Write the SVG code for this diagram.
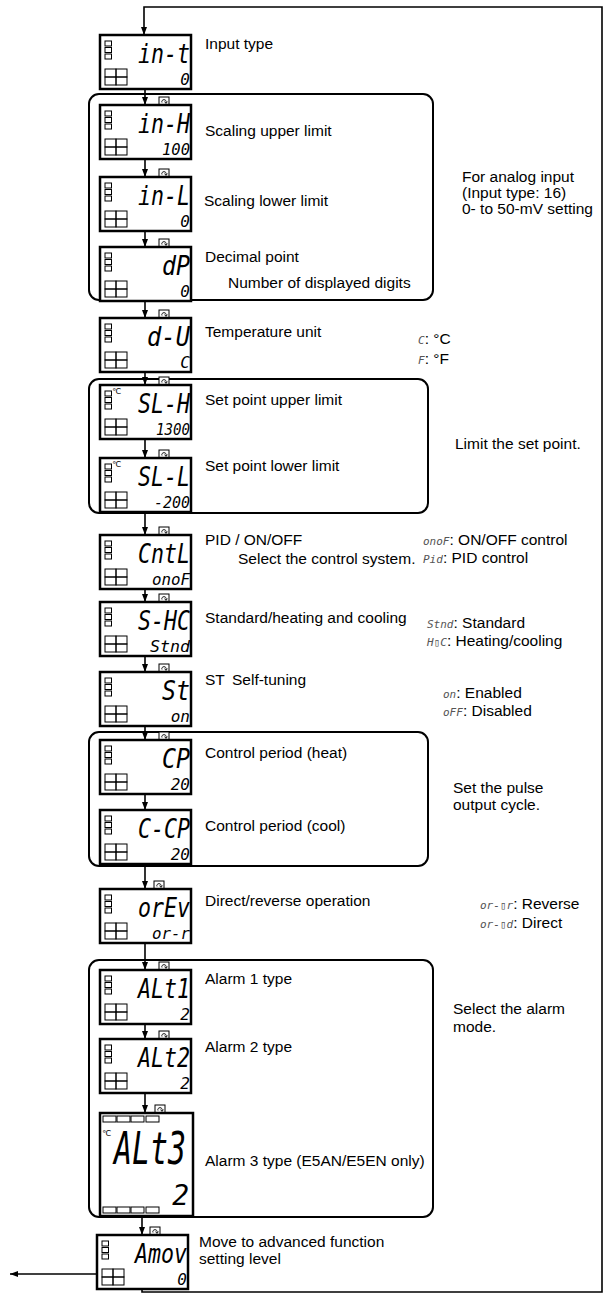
<svg xmlns="http://www.w3.org/2000/svg" xmlns:xlink="http://www.w3.org/1999/xlink" width="612" height="1297" viewBox="0 0 612 1297">
<style>
.t{font-family:"Liberation Sans",Arial,sans-serif;font-size:15.5px;fill:#000}
.big{font-family:"DejaVu Sans Mono",monospace;font-style:italic;font-size:26px;text-anchor:end;fill:#000}
.sm{font-family:"DejaVu Sans Mono",monospace;font-style:italic;font-size:16px;text-anchor:end;fill:#000}
.seg{font-family:"DejaVu Sans Mono",monospace;font-style:italic;font-size:11px;fill:#555}
.deg{font-family:"DejaVu Sans",sans-serif;font-size:8px;fill:#000}
.grp{fill:none;stroke:#000;stroke-width:2}
.con{fill:none;stroke:#000;stroke-width:1.6}
.ind{fill:none;stroke:#000;stroke-width:1}
</style>
<defs>
<marker id="ah" viewBox="0 0 10 10" refX="10" refY="5" markerWidth="8" markerHeight="6" markerUnits="userSpaceOnUse" orient="auto" preserveAspectRatio="none"><path d="M0,0 L10,5 L0,10 z" fill="#000"/></marker>
<g id="dispc">
<rect x="0" y="0" width="91" height="54" fill="#fff" stroke="#000" stroke-width="2.5"/>
<rect class="ind" x="5" y="6" width="6.5" height="5"/>
<rect class="ind" x="5" y="12.5" width="6.5" height="5"/>
<rect class="ind" x="5" y="19" width="6.5" height="5"/>
<rect class="ind" x="5" y="34" width="11" height="8"/>
<rect class="ind" x="16" y="34" width="11" height="8"/>
<rect class="ind" x="5" y="42" width="11" height="8"/>
<rect class="ind" x="16" y="42" width="11" height="8"/>
</g>
<g id="loop">
<rect x="0" y="0" width="10" height="8" fill="#fff" stroke="#000" stroke-width="1"/>
<path d="M3,5.5 A2.2,2 0 1 1 7,5.5" fill="none" stroke="#000" stroke-width="0.9"/>
<path d="M5.6,4.6 L7,6.4 L8.4,4.6" fill="none" stroke="#000" stroke-width="0.9"/>
</g>
</defs>

<!-- group frames -->
<g id="groups">
<rect class="grp" x="89" y="94" width="344" height="206" rx="10"/>
<rect class="grp" x="89" y="379" width="339" height="134" rx="10"/>
<rect class="grp" x="89" y="732" width="339" height="134" rx="10"/>
<rect class="grp" x="89" y="960" width="344" height="257" rx="10"/>
</g>

<!-- connectors -->
<g id="connectors">
<path class="con" d="M142,1289 V1292 H602 V7 H144 V35" marker-end="url(#ah)"/>
<path class="con" d="M145,89 V105" marker-end="url(#ah)"/>
<path class="con" d="M145,159 V177" marker-end="url(#ah)"/>
<path class="con" d="M145,231 V247" marker-end="url(#ah)"/>
<path class="con" d="M145,301 V318" marker-end="url(#ah)"/>
<path class="con" d="M145,372 V385" marker-end="url(#ah)"/>
<path class="con" d="M145,439 V458" marker-end="url(#ah)"/>
<path class="con" d="M145,512 V535" marker-end="url(#ah)"/>
<path class="con" d="M145,589 V602" marker-end="url(#ah)"/>
<path class="con" d="M145,656 V672" marker-end="url(#ah)"/>
<path class="con" d="M145,726 V740" marker-end="url(#ah)"/>
<path class="con" d="M145,794 V810" marker-end="url(#ah)"/>
<path class="con" d="M145,864 V889" marker-end="url(#ah)"/>
<path class="con" d="M145,943 V970" marker-end="url(#ah)"/>
<path class="con" d="M145,1024 V1039" marker-end="url(#ah)"/>
<path class="con" d="M145,1093 V1113" marker-end="url(#ah)"/>
<path class="con" d="M142,1216 V1235" marker-end="url(#ah)"/>
<path class="con" d="M97,1274 H10" marker-end="url(#ah)"/>
</g>

<!-- nodes -->
<g id="n-int">
<use href="#dispc" x="100" y="35"/>
<text class="big" x="190" y="63" textLength="52" lengthAdjust="spacingAndGlyphs">in-t</text>
<text class="sm" x="190" y="85">0</text>
<text class="t" x="205" y="49">Input type</text>
</g>

<g id="n-inh">
<use href="#loop" x="159" y="97"/>
<use href="#dispc" x="100" y="105"/>
<text class="big" x="190" y="133" textLength="52" lengthAdjust="spacingAndGlyphs">in-H</text>
<text class="sm" x="190" y="155" textLength="28" lengthAdjust="spacingAndGlyphs">100</text>
<text class="t" x="205" y="136">Scaling upper limit</text>
</g>

<g id="n-inl">
<use href="#loop" x="159" y="169"/>
<use href="#dispc" x="100" y="177"/>
<text class="big" x="190" y="205" textLength="52" lengthAdjust="spacingAndGlyphs">in-L</text>
<text class="sm" x="190" y="227">0</text>
<text class="t" x="204" y="206">Scaling lower limit</text>
</g>

<g id="n-dp">
<use href="#loop" x="159" y="239"/>
<use href="#dispc" x="100" y="247"/>
<text class="big" x="190" y="275" textLength="28" lengthAdjust="spacingAndGlyphs">dP</text>
<text class="sm" x="190" y="297">0</text>
<text class="t" x="205" y="262">Decimal point</text>
<text class="t" x="228" y="288">Number of displayed digits</text>
</g>

<g id="note-analog">
<text class="t" x="462" y="182">For analog input</text>
<text class="t" x="462" y="198">(Input type: 16)</text>
<text class="t" x="462" y="214">0- to 50-mV setting</text>
</g>

<g id="n-du">
<use href="#loop" x="159" y="310"/>
<use href="#dispc" x="100" y="318"/>
<text class="big" x="190" y="346" textLength="43" lengthAdjust="spacingAndGlyphs">d-U</text>
<text class="sm" x="190" y="368">C</text>
<text class="t" x="205" y="337">Temperature unit</text>
<text class="t" x="418" y="344"><tspan class="seg">C</tspan>: °C</text>
<text class="t" x="418" y="364"><tspan class="seg">F</tspan>: °F</text>
</g>

<g id="n-slh">
<use href="#loop" x="159" y="377"/>
<use href="#dispc" x="100" y="385"/>
<text class="deg" x="112" y="394">℃</text>
<text class="big" x="190" y="413" textLength="52" lengthAdjust="spacingAndGlyphs">SL-H</text>
<text class="sm" x="190" y="435" textLength="34" lengthAdjust="spacingAndGlyphs">1300</text>
<text class="t" x="205" y="405">Set point upper limit</text>
</g>

<g id="n-sll">
<use href="#loop" x="159" y="450"/>
<use href="#dispc" x="100" y="458"/>
<text class="deg" x="112" y="467">℃</text>
<text class="big" x="190" y="486" textLength="52" lengthAdjust="spacingAndGlyphs">SL-L</text>
<text class="sm" x="190" y="508" textLength="36" lengthAdjust="spacingAndGlyphs">-200</text>
<text class="t" x="205" y="471">Set point lower limit</text>
</g>

<text class="t" x="455" y="449">Limit the set point.</text>

<g id="n-cntl">
<use href="#loop" x="159" y="527"/>
<use href="#dispc" x="100" y="535"/>
<text class="big" x="190" y="563" textLength="52" lengthAdjust="spacingAndGlyphs">CntL</text>
<text class="sm" x="190" y="585" textLength="38" lengthAdjust="spacingAndGlyphs">onoF</text>
<text class="t" x="205" y="545">PID / ON/OFF</text>
<text class="t" x="238" y="564">Select the control system.</text>
<text class="t" x="423" y="545"><tspan class="seg">onoF</tspan>: ON/OFF control</text>
<text class="t" x="423" y="563"><tspan class="seg">Pid</tspan>: PID control</text>
</g>

<g id="n-shc">
<use href="#loop" x="159" y="594"/>
<use href="#dispc" x="100" y="602"/>
<text class="big" x="190" y="630" textLength="52" lengthAdjust="spacingAndGlyphs">S-HC</text>
<text class="sm" x="190" y="652" textLength="40" lengthAdjust="spacingAndGlyphs">Stnd</text>
<text class="t" x="205" y="623">Standard/heating and cooling</text>
<text class="t" x="427" y="628"><tspan class="seg">Stnd</tspan>: Standard</text>
<text class="t" x="427" y="646"><tspan class="seg">H▯C</tspan>: Heating/cooling</text>
</g>

<g id="n-st">
<use href="#loop" x="159" y="664"/>
<use href="#dispc" x="100" y="672"/>
<text class="big" x="190" y="700" textLength="28" lengthAdjust="spacingAndGlyphs">St</text>
<text class="sm" x="190" y="722">on</text>
<text class="t" x="205" y="685">ST</text>
<text class="t" x="232" y="685">Self-tuning</text>
<text class="t" x="443" y="698"><tspan class="seg">on</tspan>: Enabled</text>
<text class="t" x="443" y="716"><tspan class="seg">oFF</tspan>: Disabled</text>
</g>

<g id="n-cp">
<use href="#loop" x="159" y="732"/>
<use href="#dispc" x="100" y="740"/>
<text class="big" x="190" y="768" textLength="28" lengthAdjust="spacingAndGlyphs">CP</text>
<text class="sm" x="190" y="790">20</text>
<text class="t" x="205" y="758">Control period (heat)</text>
</g>

<g id="n-ccp">
<use href="#dispc" x="100" y="810"/>
<text class="big" x="190" y="838" textLength="52" lengthAdjust="spacingAndGlyphs">C-CP</text>
<text class="sm" x="190" y="860">20</text>
<text class="t" x="205" y="831">Control period (cool)</text>
</g>

<g id="note-pulse">
<text class="t" x="453" y="793">Set the pulse</text>
<text class="t" x="453" y="810">output cycle.</text>
</g>

<g id="n-orev">
<use href="#loop" x="154" y="881"/>
<use href="#dispc" x="100" y="889"/>
<text class="big" x="190" y="917" textLength="52" lengthAdjust="spacingAndGlyphs">orEv</text>
<text class="sm" x="190" y="939" textLength="38" lengthAdjust="spacingAndGlyphs">or-r</text>
<text class="t" x="205" y="906">Direct/reverse operation</text>
<text class="t" x="480" y="909"><tspan class="seg">or-▯r</tspan>: Reverse</text>
<text class="t" x="480" y="928"><tspan class="seg">or-▯d</tspan>: Direct</text>
</g>

<g id="n-alt1">
<use href="#loop" x="159" y="962"/>
<use href="#dispc" x="100" y="970"/>
<text class="big" x="190" y="998" textLength="52" lengthAdjust="spacingAndGlyphs">ALt1</text>
<text class="sm" x="190" y="1020">2</text>
<text class="t" x="205" y="984">Alarm 1 type</text>
</g>

<g id="n-alt2">
<use href="#loop" x="159" y="1031"/>
<use href="#dispc" x="100" y="1039"/>
<text class="big" x="190" y="1067" textLength="52" lengthAdjust="spacingAndGlyphs">ALt2</text>
<text class="sm" x="190" y="1089">2</text>
<text class="t" x="205" y="1052">Alarm 2 type</text>
</g>

<g id="note-alarm">
<text class="t" x="453" y="1014">Select the alarm</text>
<text class="t" x="453" y="1032">mode.</text>
</g>

<g id="n-alt3">
<use href="#loop" x="155" y="1105"/>
<rect x="100" y="1113" width="93" height="103" fill="#fff" stroke="#000" stroke-width="2.5"/>
<rect class="ind" x="103" y="1116" width="13" height="6"/>
<rect class="ind" x="117" y="1116" width="13" height="6"/>
<rect class="ind" x="131" y="1116" width="13" height="6"/>
<rect class="ind" x="146" y="1116" width="13" height="6"/>
<rect class="ind" x="103" y="1207" width="13" height="6"/>
<rect class="ind" x="117" y="1207" width="13" height="6"/>
<rect class="ind" x="131" y="1207" width="13" height="6"/>
<rect class="ind" x="146" y="1207" width="13" height="6"/>
<text class="deg" x="102" y="1136">℃</text>
<text class="big" x="186" y="1164" style="font-size:44px" textLength="72" lengthAdjust="spacingAndGlyphs">ALt3</text>
<text class="big" x="189" y="1205" style="font-size:28px">2</text>
<text class="t" x="205" y="1166">Alarm 3 type (E5AN/E5EN only)</text>
</g>

<g id="n-amov">
<use href="#loop" x="150" y="1227"/>
<use href="#dispc" x="97" y="1235"/>
<text class="big" x="187" y="1263" textLength="52" lengthAdjust="spacingAndGlyphs">Amov</text>
<text class="sm" x="187" y="1285">0</text>
<text class="t" x="199" y="1247">Move to advanced function</text>
<text class="t" x="199" y="1264">setting level</text>
</g>
</svg>
